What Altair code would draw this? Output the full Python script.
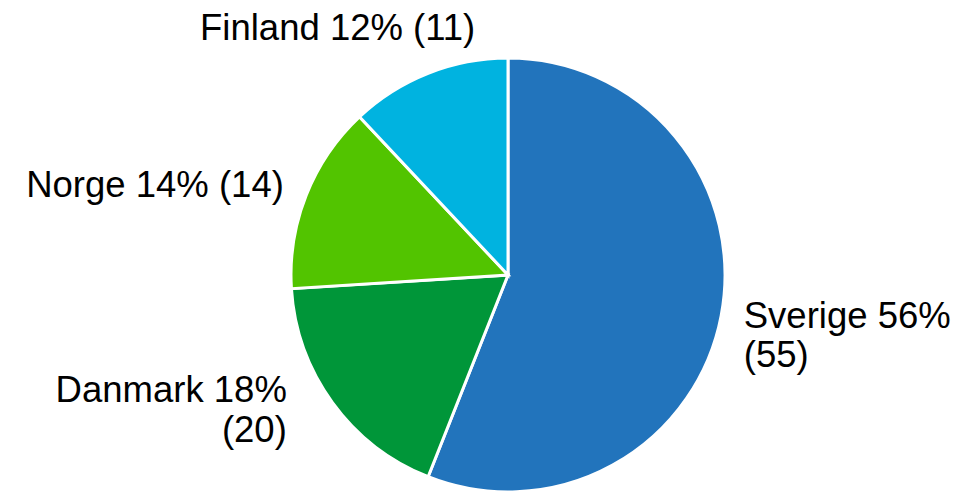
import altair as alt
import pandas as pd

countries = ["Sverige", "Danmark", "Norge", "Finland"]
percents = [56, 18, 14, 12]
counts = [55, 20, 14, 11]
two_line = [True, True, False, False]
colors = ["#2274BC", "#009639", "#52C400", "#00B3E0"]

labels = []
for c, p, n, b in zip(countries, percents, counts, two_line):
    sep = "\n" if b else " "
    labels.append(f"{c} {p}%{sep}({n})")

df = pd.DataFrame({
    "country": countries,
    "pct": percents,
    "count": counts,
    "label": labels,
    "idx": list(range(len(countries))),
})

base = (
    alt.Chart(df)
    .transform_stack(stack="pct", as_=["start", "end"], groupby=[], sort=[alt.SortField("idx")])
    .transform_calculate(mid="(datum.start + datum.end) / 2")
)

theta_scale = alt.Scale(domain=[0, 100])

arcs = base.mark_arc(radius=217, stroke="white", strokeWidth=3).encode(
    theta=alt.Theta("start:Q", scale=theta_scale, stack=False),
    theta2="end:Q",
    color=alt.Color("country:N", scale=alt.Scale(domain=countries, range=colors), legend=None),
)

# label style per country: align, dx, dy
label_style = {
    "Sverige": ("left", 0, 8),
    "Danmark": ("right", -27, -14),
    "Norge": ("right", -1, 10),
    "Finland": ("center", -82, -12),
}

layers = [arcs]
for c in countries:
    al, dx, dy = label_style[c]
    layers.append(
        base.transform_filter(alt.datum.country == c)
        .mark_text(
            radius=240, align=al, baseline="alphabetic", dx=dx, dy=dy,
            font="Liberation Sans", fontSize=36.5, lineHeight=39.5, lineBreak="\n", color="black",
        )
        .encode(theta=alt.Theta("mid:Q", scale=theta_scale, stack=False), text="label:N")
    )

chart = (
    alt.layer(*layers)
    .properties(
        width=886, height=412,
        autosize=alt.AutoSizeParams(type="none"),
        padding={"left": 57, "top": 61, "right": 0, "bottom": 10},
    )
    .configure_view(stroke=None)
)

chart.save("out.html", embed_options={"renderer": "svg", "actions": False})
